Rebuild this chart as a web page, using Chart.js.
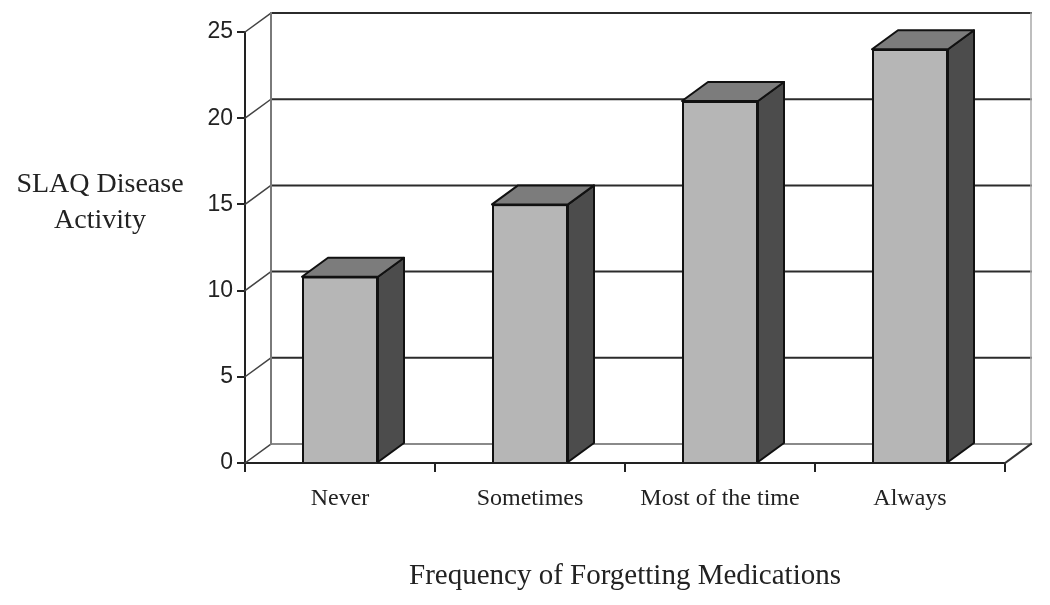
<!DOCTYPE html>
<html>
<head>
<meta charset="utf-8">
<script src="https://cdn.jsdelivr.net/npm/chart.js@4.4.1/dist/chart.umd.min.js"></script>
<style>
html, body { margin: 0; padding: 0; background: #fff; }
</style>
</head>
<body>
<canvas id="myChart" width="1050" height="605"></canvas>
<script>
const categories = ['Never', 'Sometimes', 'Most of the time', 'Always'];
const activityValues = [10.8, 15.0, 21.0, 24.0];
const yTicks = [0, 5, 10, 15, 20, 25];
const yTitleLines = ['SLAQ Disease', 'Activity'];
const xTitle = 'Frequency of Forgetting Medications';

// depth of the 3D box (back wall offset)
const DX = 26;
const DY = -19;

function line(ctx, x1, y1, x2, y2) {
    ctx.beginPath();
    ctx.moveTo(x1, y1);
    ctx.lineTo(x2, y2);
    ctx.stroke();
}

const depthPlugin = {
    id: 'depth',
    beforeDatasetsDraw(chart) {
        const { ctx, chartArea: a, scales: { y } } = chart;
        ctx.save();
        ctx.lineCap = 'square';

        // back wall gridlines
        yTicks.forEach(v => {
            const py = y.getPixelForValue(v);
            ctx.lineWidth = 2;
            ctx.strokeStyle = v === 0 ? '#8a8a8a' : '#2b2b2b';
            line(ctx, a.left + DX, py + DY, a.right + DX, py + DY);
            // diagonal from front axis to the wall
            ctx.strokeStyle = '#444';
            ctx.lineWidth = 1.5;
            line(ctx, a.left, py, a.left + DX, py + DY);
        });

        // wall edges
        const top = y.getPixelForValue(25);
        const bottom = y.getPixelForValue(0);
        ctx.lineWidth = 2;
        ctx.strokeStyle = '#7a7a7a';
        line(ctx, a.left + DX, top + DY, a.left + DX, bottom + DY);
        ctx.strokeStyle = '#a8a8a8';
        ctx.lineWidth = 1.5;
        line(ctx, a.right + DX, top + DY, a.right + DX, bottom + DY);

        // floor right edge
        ctx.strokeStyle = '#333';
        ctx.lineWidth = 2;
        line(ctx, a.right, bottom, a.right + DX, bottom + DY);
        ctx.restore();
    },
    afterDatasetsDraw(chart) {
        const { ctx } = chart;
        const meta = chart.getDatasetMeta(0);
        ctx.save();
        ctx.lineWidth = 2;
        ctx.strokeStyle = '#111';
        ctx.lineJoin = 'round';
        meta.data.forEach(bar => {
            const left = bar.x - bar.width / 2;
            const right = bar.x + bar.width / 2;
            const yt = bar.y;
            const yb = bar.base;

            // side face
            ctx.fillStyle = '#4c4c4c';
            ctx.beginPath();
            ctx.moveTo(right, yt);
            ctx.lineTo(right + DX, yt + DY);
            ctx.lineTo(right + DX, yb + DY);
            ctx.lineTo(right, yb);
            ctx.closePath();
            ctx.fill();
            ctx.stroke();

            // top face
            ctx.fillStyle = '#7c7c7c';
            ctx.beginPath();
            ctx.moveTo(left, yt);
            ctx.lineTo(left + DX, yt + DY);
            ctx.lineTo(right + DX, yt + DY);
            ctx.lineTo(right, yt);
            ctx.closePath();
            ctx.fill();
            ctx.stroke();
        });
        ctx.restore();
    },
    afterDraw(chart) {
        const { ctx } = chart;
        ctx.save();
        ctx.fillStyle = '#222';
        ctx.font = '28px "Liberation Serif", "Times New Roman", serif';
        ctx.textAlign = 'center';
        ctx.textBaseline = 'middle';
        ctx.fillText(yTitleLines[0], 100, 185);
        ctx.fillText(yTitleLines[1], 100, 221);
        ctx.restore();
    }
};

const ctx = document.getElementById('myChart').getContext('2d');
const myChart = new Chart(ctx, {
    type: 'bar',
    data: {
        labels: categories,
        datasets: [{
            data: activityValues,
            backgroundColor: '#b6b6b6',
            borderColor: '#111',
            borderWidth: 2,
            barPercentage: 0.4,
            categoryPercentage: 1.0
        }]
    },
    options: {
        responsive: false,
        animation: false,
        layout: {
            padding: { left: 0, top: 32, right: 45, bottom: 0 }
        },
        plugins: {
            legend: { display: false },
            tooltip: { enabled: false }
        },
        scales: {
            x: {
                grid: {
                    drawOnChartArea: false,
                    drawTicks: true,
                    tickLength: 9,
                    color: '#222',
                    lineWidth: 2
                },
                border: { color: '#222', width: 2 },
                ticks: {
                    color: '#222',
                    padding: 12,
                    maxRotation: 0,
                    font: { family: '"Liberation Serif", "Times New Roman", serif', size: 24 }
                },
                title: {
                    display: true,
                    text: xTitle,
                    color: '#222',
                    padding: { top: 0, bottom: 11 },
                    font: { family: '"Liberation Serif", "Times New Roman", serif', size: 29 }
                },
                afterFit(scale) {
                    scale.height = 142;
                }
            },
            y: {
                min: 0,
                max: 25,
                ticks: {
                    stepSize: 5,
                    color: '#222',
                    padding: 4,
                    font: { family: '"Liberation Sans", Arial, sans-serif', size: 23 }
                },
                grid: {
                    drawOnChartArea: false,
                    drawTicks: true,
                    tickLength: 8,
                    color: '#222',
                    lineWidth: 2
                },
                border: { color: '#222', width: 2 },
                afterFit(scale) {
                    scale.width = 245;
                }
            }
        }
    },
    plugins: [depthPlugin]
});
</script>
</body>
</html>
